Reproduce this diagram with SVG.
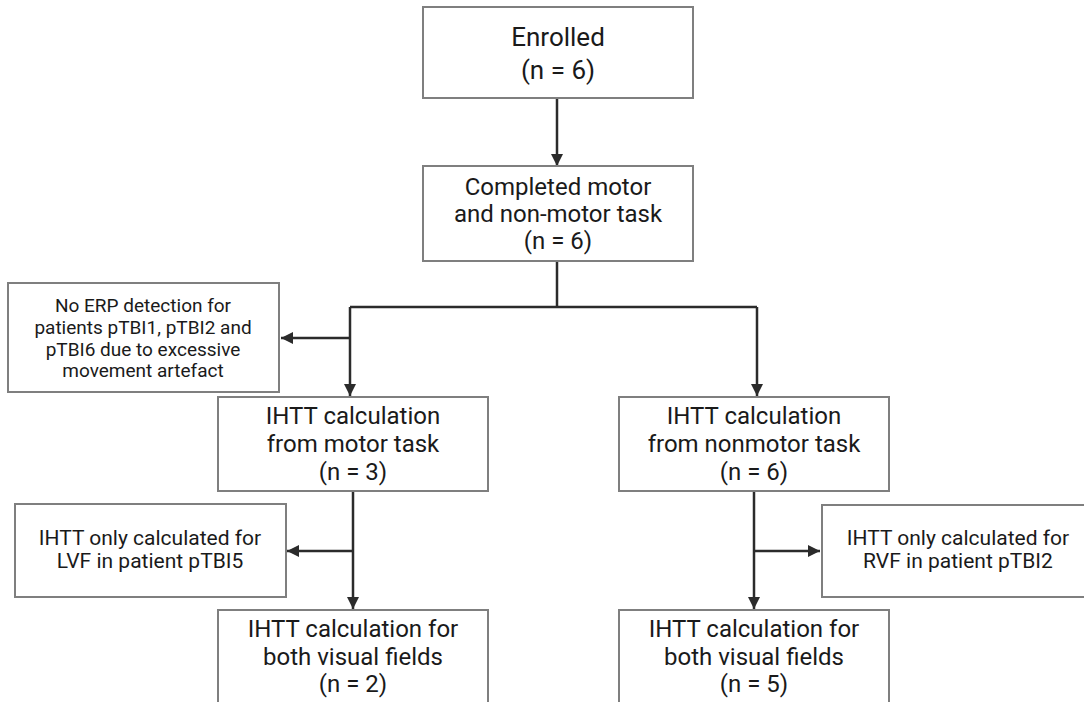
<svg xmlns="http://www.w3.org/2000/svg" width="1084" height="702" viewBox="0 0 1084 702">
<defs>
<marker id="ah" viewBox="0 0 10 10" refX="10" refY="5" markerWidth="12" markerHeight="12" markerUnits="userSpaceOnUse" orient="auto">
<path d="M0,0 L10,5 L0,10 z" fill="#2b2b2b"/>
</marker>
<style>
.box{fill:#fff;stroke:#7f7f7f;stroke-width:2}
.t{font-family:Roboto,"Liberation Sans",sans-serif;fill:#1a1a1a;text-anchor:middle}
.big{font-size:26px}
.mid{font-size:24px}
.sm{font-size:21px}
.xs{font-size:19px}
.c{fill:none;stroke:#2b2b2b;stroke-width:2.5}
</style>
</defs>
<rect width="1084" height="702" fill="#fff"/>
<g id="connectors">
<line class="c" x1="557" y1="98" x2="557" y2="166" marker-end="url(#ah)"/>
<polyline class="c" points="557,261 557,307"/>
<polyline class="c" points="350,307 757,307"/>
<line class="c" x1="350" y1="307" x2="350" y2="396" marker-end="url(#ah)"/>
<line class="c" x1="757" y1="307" x2="757" y2="396" marker-end="url(#ah)"/>
<line class="c" x1="350" y1="338" x2="281" y2="338" marker-end="url(#ah)"/>
<line class="c" x1="353" y1="491" x2="353" y2="609" marker-end="url(#ah)"/>
<line class="c" x1="353" y1="551" x2="287" y2="551" marker-end="url(#ah)"/>
<line class="c" x1="754" y1="491" x2="754" y2="609" marker-end="url(#ah)"/>
<line class="c" x1="754" y1="551" x2="820" y2="551" marker-end="url(#ah)"/>
</g>
<g id="enrolled">
<rect class="box" x="423" y="7" width="270" height="91"/>
<text class="t big" x="558" y="46">Enrolled</text>
<text class="t big" x="558" y="79">(n = 6)</text>
</g>
<g id="completed">
<rect class="box" x="423" y="166" width="270" height="95"/>
<text class="t mid" x="558" y="195">Completed motor</text>
<text class="t mid" x="558" y="222">and non-motor task</text>
<text class="t mid" x="558" y="249">(n = 6)</text>
</g>
<g id="no-erp">
<rect class="box" x="8" y="283" width="271" height="109"/>
<text class="t xs" x="143" y="312">No ERP detection for</text>
<text class="t xs" x="143" y="334">patients pTBI1, pTBI2 and</text>
<text class="t xs" x="143" y="356">pTBI6 due to excessive</text>
<text class="t xs" x="143" y="377">movement artefact</text>
</g>
<g id="ihtt-motor">
<rect class="box" x="218" y="397" width="270" height="94"/>
<text class="t mid" x="353" y="424">IHTT calculation</text>
<text class="t mid" x="353" y="452">from motor task</text>
<text class="t mid" x="353" y="480">(n = 3)</text>
</g>
<g id="ihtt-nonmotor">
<rect class="box" x="619" y="397" width="270" height="94"/>
<text class="t mid" x="754" y="424">IHTT calculation</text>
<text class="t mid" x="754" y="452">from nonmotor task</text>
<text class="t mid" x="754" y="480">(n = 6)</text>
</g>
<g id="lvf">
<rect class="box" x="15" y="504" width="271" height="93"/>
<text class="t sm" x="150" y="545">IHTT only calculated for</text>
<text class="t sm" x="150" y="568">LVF in patient pTBI5</text>
</g>
<g id="rvf">
<rect class="box" x="822" y="505" width="272" height="92"/>
<text class="t sm" x="958" y="545">IHTT only calculated for</text>
<text class="t sm" x="958" y="568">RVF in patient pTBI2</text>
</g>
<g id="both-motor">
<rect class="box" x="218" y="610" width="270" height="100"/>
<text class="t mid" x="353" y="637">IHTT calculation for</text>
<text class="t mid" x="353" y="665">both visual fields</text>
<text class="t mid" x="353" y="692">(n = 2)</text>
</g>
<g id="both-nonmotor">
<rect class="box" x="619" y="610" width="270" height="100"/>
<text class="t mid" x="754" y="637">IHTT calculation for</text>
<text class="t mid" x="754" y="665">both visual fields</text>
<text class="t mid" x="754" y="692">(n = 5)</text>
</g>
</svg>
